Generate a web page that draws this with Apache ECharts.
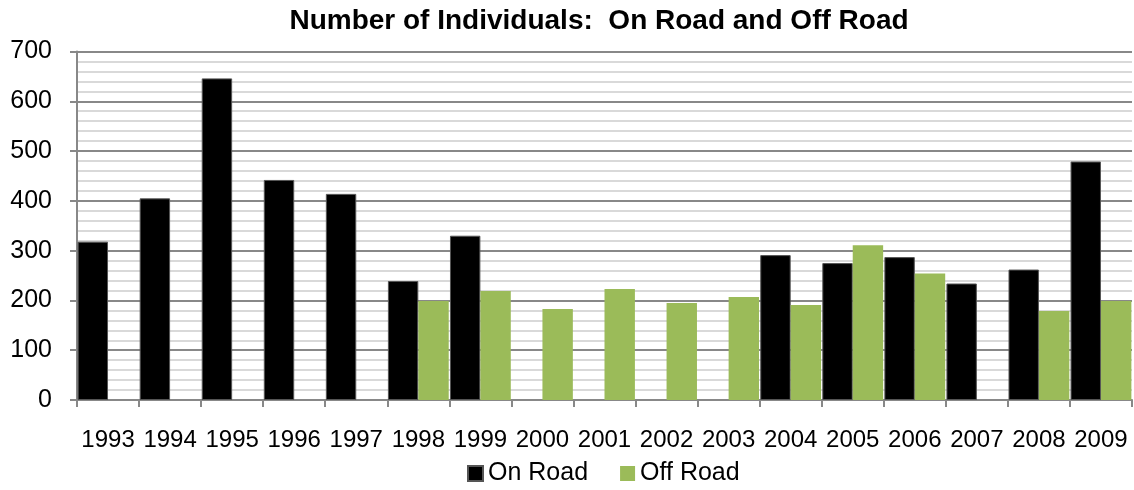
<!DOCTYPE html>
<html>
<head>
<meta charset="utf-8">
<script src="https://cdn.jsdelivr.net/npm/echarts@6/dist/echarts.min.js"></script>
<style>
  html, body { margin: 0; padding: 0; background: #fff; }
  #chart { width: 1134px; height: 490px; }
</style>
</head>
<body>
<div id="chart"></div>
<script>
const years = ['1993', '1994', '1995', '1996', '1997', '1998', '1999', '2000', '2001',
  '2002', '2003', '2004', '2005', '2006', '2007', '2008', '2009']
const onRoad = [318, 405, 646, 442, 414, 239, 330, null, null, null, null, 291, 275, 287, 234, 262, 479]
const offRoad = [null, null, null, null, null, 199, 219, 183, 223, 195, 207, 191, 311, 254, null, 179, 199]
const yTicks = [0, 100, 200, 300, 400, 500, 600, 700]

const font = 'Liberation Sans, Arial, sans-serif'
const chart = echarts.init(document.getElementById('chart'))

chart.setOption({
  backgroundColor: '#fff',
  animation: false,
  title: {
    text: 'Number of Individuals:  On Road and Off Road',
    left: 594,
    textAlign: 'center',
    top: 2,
    textStyle: { fontFamily: font, fontSize: 28, fontWeight: 'bold', color: '#000' }
  },
  legend: {
    data: ['On Road', 'Off Road'],
    top: 456,
    left: 462,
    itemWidth: 15,
    itemHeight: 15,
    itemGap: 32,
    icon: 'rect',
    textStyle: { fontFamily: font, fontSize: 25, color: '#000' }
  },
  grid: { left: 77, right: 2, top: 51.5, bottom: 90 },
  xAxis: {
    type: 'category',
    data: years,
    axisLine: { lineStyle: { color: '#888', width: 2 } },
    axisTick: { show: true, length: 7, lineStyle: { color: '#888', width: 2 } },
    axisLabel: { interval: 0, fontFamily: font, fontSize: 24, color: '#000', margin: 28 }
  },
  yAxis: {
    type: 'value',
    min: yTicks[0],
    max: yTicks[yTicks.length - 1],
    interval: 100,
    axisLine: { show: true, lineStyle: { color: '#888', width: 2 } },
    axisTick: { show: true, length: 7, lineStyle: { color: '#888', width: 2 } },
    axisLabel: { fontFamily: font, fontSize: 25, color: '#000', margin: 25 },
    splitLine: { lineStyle: { color: '#888', width: 2 } },
    minorTick: { show: false, splitNumber: 5 },
    minorSplitLine: { show: true, lineStyle: { color: '#d9d9d9', width: 2 } }
  },
  series: [
    {
      name: 'On Road',
      type: 'bar',
      data: onRoad,
      barGap: '0%',
      barCategoryGap: '2%',
      itemStyle: { color: '#000', borderColor: '#555', borderWidth: 1 }
    },
    {
      name: 'Off Road',
      type: 'bar',
      data: offRoad,
      itemStyle: { color: '#9bbb59' }
    }
  ]
})
</script>
</body>
</html>
